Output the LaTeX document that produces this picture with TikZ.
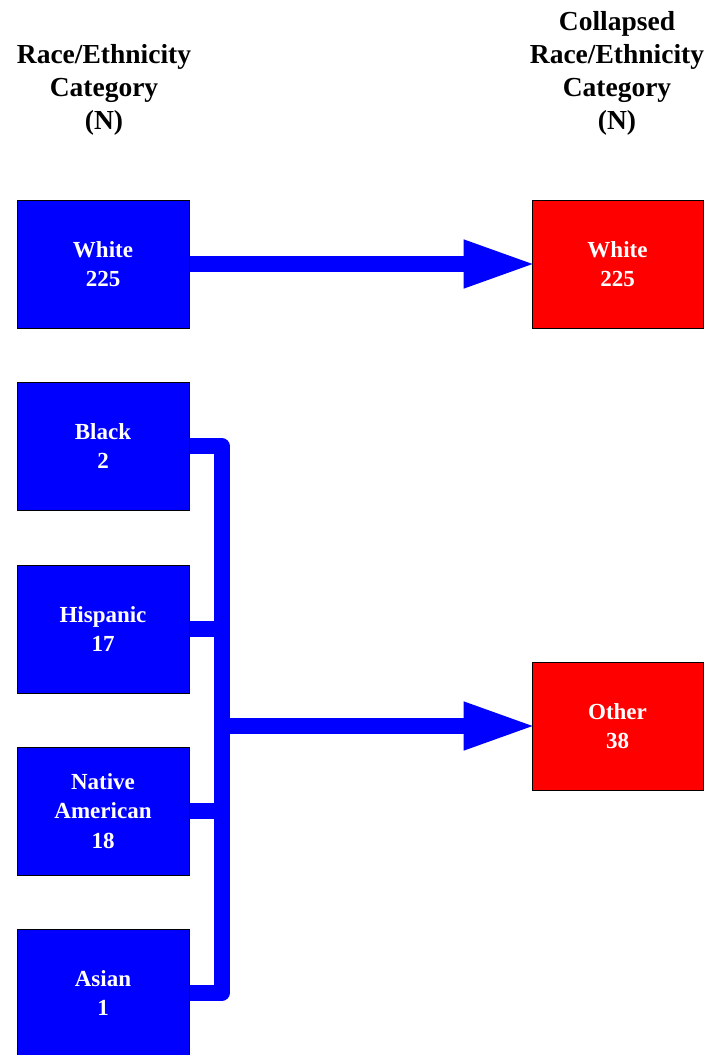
\documentclass[tikz,border=0pt]{standalone}
\usepackage{fontspec}
\setmainfont{Liberation Serif}
\usetikzlibrary{arrows.meta}
\definecolor{catblue}{RGB}{0,0,255}
\definecolor{catred}{RGB}{255,0,0}
\begin{document}
\begin{tikzpicture}[x=1pt,y=-1pt,
  catbox/.style={draw=black, line width=1pt, minimum width=172pt, minimum height=128pt,
    inner sep=0pt, align=center, text=white,
    font=\fontsize{23}{29.5}\selectfont\bfseries},
  srcbox/.style={catbox, fill=catblue},
  dstbox/.style={catbox, fill=catred, minimum width=171pt},
  header/.style={anchor=north, inner sep=0pt, align=center,
    font=\fontsize{27.5}{33}\selectfont\bfseries},
  conn/.style={draw=catblue, line width=16pt, line join=round},
  bigarrow/.style={conn, -{Triangle[length=73pt,width=44pt]}, shorten >=-5pt}]
  \useasboundingbox (0,0) rectangle (710,1055);

  % column headings
  \node[header] (hl) at (104,44) {Race/Ethnicity\\Category\\(N)};
  \node[header] (hr) at (617,11) {Collapsed\\Race/Ethnicity\\Category\\(N)};

  % original categories
  \node[srcbox] (white) at (103,264) {White\\225};
  \node[srcbox] (black) at (103,446) {Black\\2};
  \node[srcbox] (hisp)  at (103,629) {Hispanic\\17};
  \node[srcbox] (nat)   at (103,811) {Native\\American\\18};
  \node[srcbox] (asian) at (103,993) {Asian\\1};

  % collapsed categories
  \node[dstbox] (cwhite) at (617.5,264) {White\\225};
  \node[dstbox] (other)  at (617.5,726) {Other\\38};

  % vertical collecting bar
  \coordinate (bar) at (221.5,0);
  \draw[conn] (black.east) -- (black.east -| bar) -- (asian.east -| bar) -- (asian.east);
  \draw[conn] (hisp.east) -- (hisp.east -| bar);
  \draw[conn] (nat.east) -- (nat.east -| bar);

  % mapping arrows
  \draw[bigarrow] (white.east) -- (cwhite.west);
  \draw[bigarrow] (bar |- other.west) -- (other.west);
\end{tikzpicture}
\end{document}
